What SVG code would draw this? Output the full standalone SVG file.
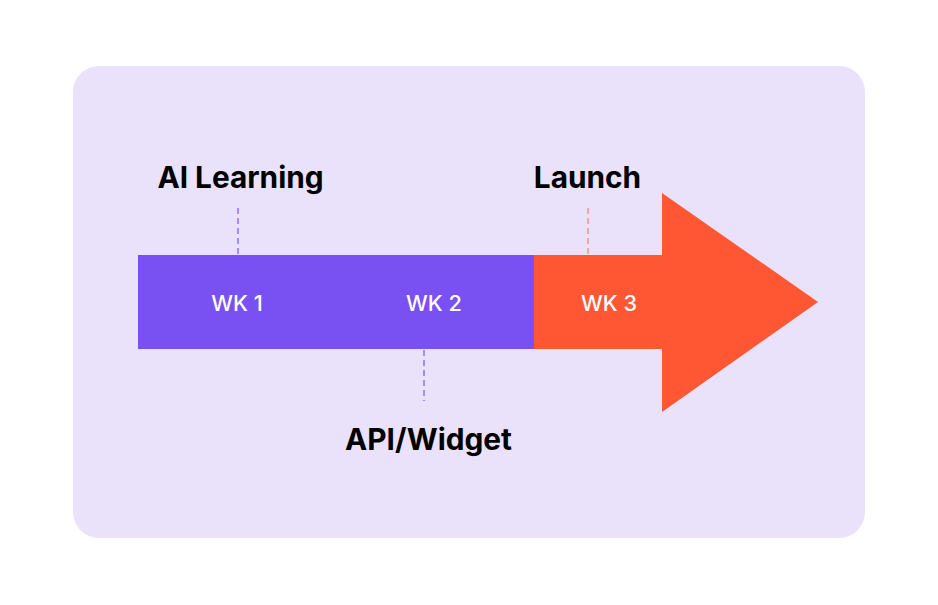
<svg xmlns="http://www.w3.org/2000/svg" width="938" height="605" viewBox="0 0 938 605">
<style>
.lbl{font-family:Inter,"Noto Sans","Liberation Sans",sans-serif;font-weight:700;font-size:29.8px;fill:#000;text-anchor:middle}
.wk{font-family:Inter,"Noto Sans","Liberation Sans",sans-serif;font-weight:500;font-size:21.7px;fill:#fff;text-anchor:middle}
.dp{stroke:#7950F2;stroke-width:1.2;stroke-dasharray:6 4;fill:none}
.do{stroke:#FF7A66;stroke-width:1.2;stroke-dasharray:6 4;fill:none}
</style>
<rect width="938" height="605" fill="#fff"/>
<rect id="panel" x="73" y="66" width="792" height="472" rx="26" fill="#EAE2FA"/>
<g id="timeline">
<g id="wk12"><rect x="138" y="255" width="396" height="94" fill="#7950F2"/>
<text class="wk" x="237" y="310.5">WK 1</text>
<text class="wk" x="434" y="310.5">WK 2</text></g>
<g id="wk3"><polygon points="534,255 662,255 662,193 818,302 662,412 662,349 534,349" fill="#FF5733"/>
<text class="wk" x="609" y="310.5">WK 3</text></g>
</g>
<g id="connectors">
<line class="dp" x1="238" y1="208" x2="238" y2="254"/>
<line class="do" x1="588" y1="208" x2="588" y2="255"/>
<line class="dp" x1="424" y1="350" x2="424" y2="401"/>
</g>
<g id="ai"><text class="lbl" x="240.5" y="188">AI Learning</text></g>
<g id="launch"><text class="lbl" x="587.5" y="188">Launch</text></g>
<g id="api"><text class="lbl" x="428.5" y="449.5">API/Widget</text></g>
</svg>
